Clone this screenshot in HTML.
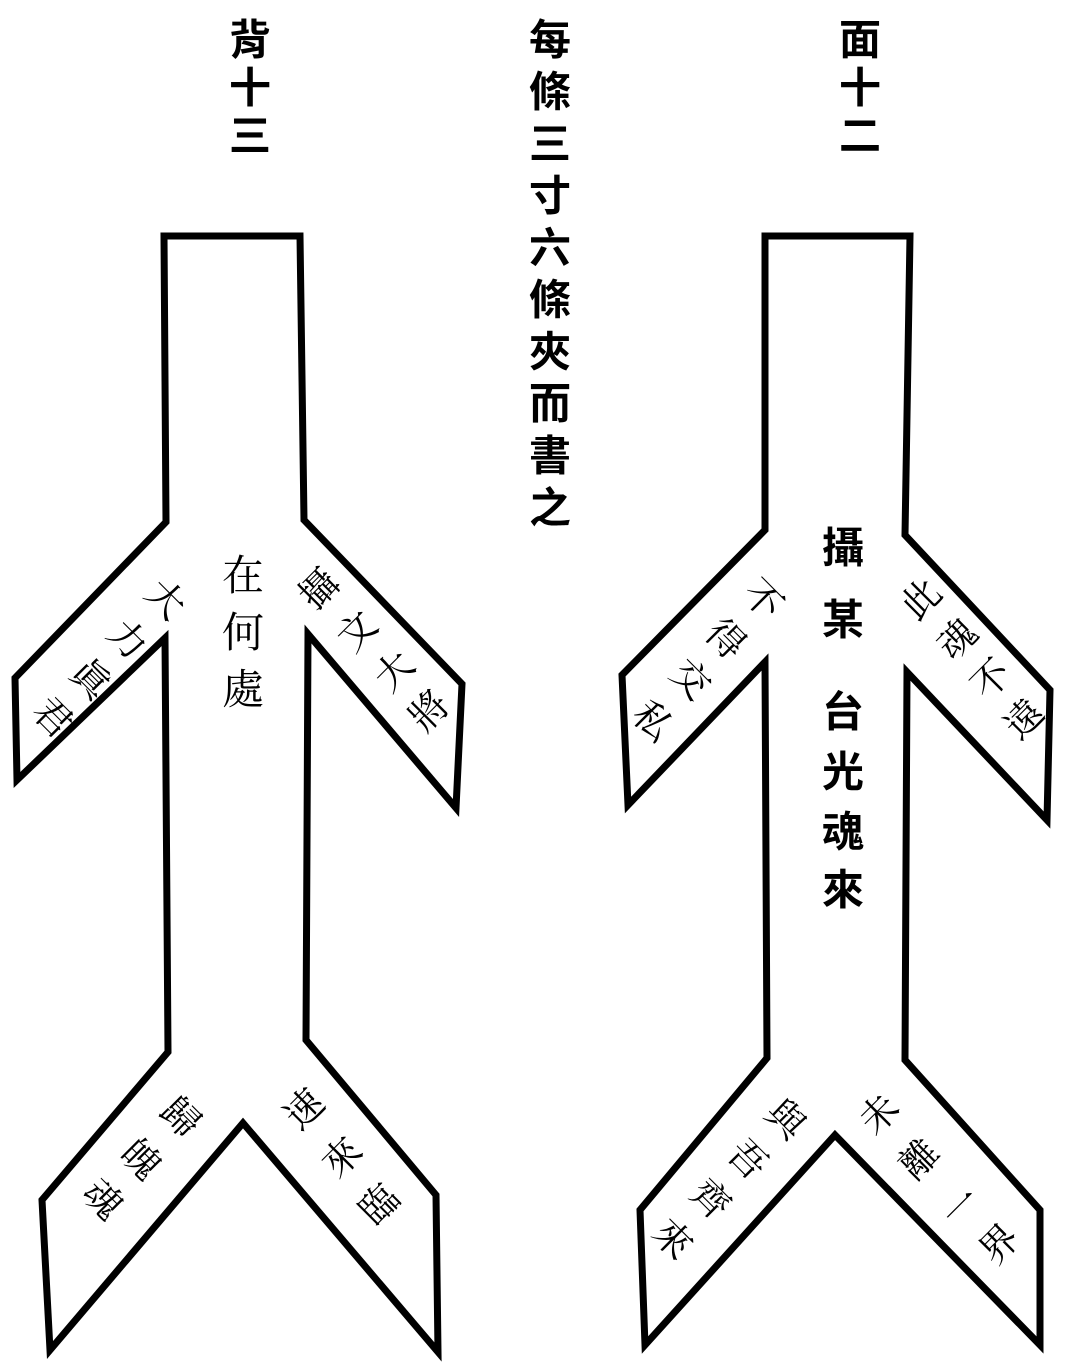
<!DOCTYPE html>
<html><head><meta charset="utf-8"><style>
html,body{margin:0;padding:0;background:#fff;}
svg{display:block;}
text{font-family:"Liberation Serif","Noto Serif CJK SC","Noto Sans CJK TC",serif;fill:#000;text-anchor:middle;dominant-baseline:central;}
.h text{font-family:"Liberation Sans","Noto Sans CJK TC",sans-serif;font-weight:bold;}
</style></head><body>
<svg width="1065" height="1369" viewBox="0 0 1065 1369" xmlns="http://www.w3.org/2000/svg">
<g fill="none" stroke="#000" stroke-width="7" stroke-linejoin="miter">
<path d="M164,236 L300,236 L304,520 L462,684 L456,808 L308,634 L306,1040 L436,1195 L438,1352 L243,1123 L50,1350 L42,1200 L168,1052 L165,638 L17,780 L15,678 L166,522 Z"/>
<path d="M765,236 L910,236 L905,535 L1050,690 L1047,820 L907,672 L905,1060 L1040,1210 L1040,1345 L835,1135 L645,1345 L640,1210 L767,1058 L765,662 L628,805 L622,675 L765,530 Z"/>
</g>
<g font-size="42" class="h">
<text x="250" y="40">背</text><text x="250" y="88">十</text><text x="250" y="136">三</text>
<text x="860" y="40">面</text><text x="860" y="88">十</text><text x="860" y="136">二</text>
<text x="550" y="40">每</text><text x="550" y="92">條</text><text x="550" y="144">三</text><text x="550" y="196">寸</text><text x="550" y="248">六</text><text x="550" y="300">條</text><text x="550" y="352">夾</text><text x="550" y="404">而</text><text x="550" y="456">書</text><text x="550" y="508">之</text>
<text x="843" y="548">攝</text><text x="843" y="620">某</text>
<text x="843" y="712">台</text><text x="843" y="772">光</text><text x="843" y="832">魂</text><text x="843" y="890">來</text>
</g>
<g font-size="42">
<text x="243" y="577">在</text><text x="243" y="634">何</text><text x="243" y="691">處</text>
</g>
<g font-size="38">
<text transform="translate(165,600) rotate(45)">大</text>
<text transform="translate(127,640) rotate(45)">力</text>
<text transform="translate(90,680) rotate(45)">眞</text>
<text transform="translate(52,718) rotate(45)">君</text>
<text transform="translate(320,590) rotate(-45)">攝</text>
<text transform="translate(358,632) rotate(-45)">文</text>
<text transform="translate(395,672) rotate(-45)">大</text>
<text transform="translate(430,712) rotate(-45)">將</text>
<text transform="translate(180,1118) rotate(45)">歸</text>
<text transform="translate(140,1160) rotate(45)">魄</text>
<text transform="translate(102,1200) rotate(45)">魂</text>
<text transform="translate(305,1110) rotate(-45)">速</text>
<text transform="translate(343,1158) rotate(-45)">來</text>
<text transform="translate(380,1205) rotate(-45)">臨</text>
<text transform="translate(762,600) rotate(45)">不</text>
<text transform="translate(725,640) rotate(45)">得</text>
<text transform="translate(690,680) rotate(45)">交</text>
<text transform="translate(652,722) rotate(45)">私</text>
<text transform="translate(922,600) rotate(-45)">此</text>
<text transform="translate(958,640) rotate(-45)">魂</text>
<text transform="translate(992,680) rotate(-45)">不</text>
<text transform="translate(1025,720) rotate(-45)">遠</text>
<text transform="translate(785,1120) rotate(45)">與</text>
<text transform="translate(747,1160) rotate(45)">吾</text>
<text transform="translate(710,1200) rotate(45)">齊</text>
<text transform="translate(672,1240) rotate(45)">來</text>
<text transform="translate(880,1115) rotate(-45)">未</text>
<text transform="translate(920,1160) rotate(-45)">離</text>
<text transform="translate(962,1208) rotate(-45)">一</text>
<text transform="translate(1000,1245) rotate(-45)">界</text>
</g>
</svg>
</body></html>
